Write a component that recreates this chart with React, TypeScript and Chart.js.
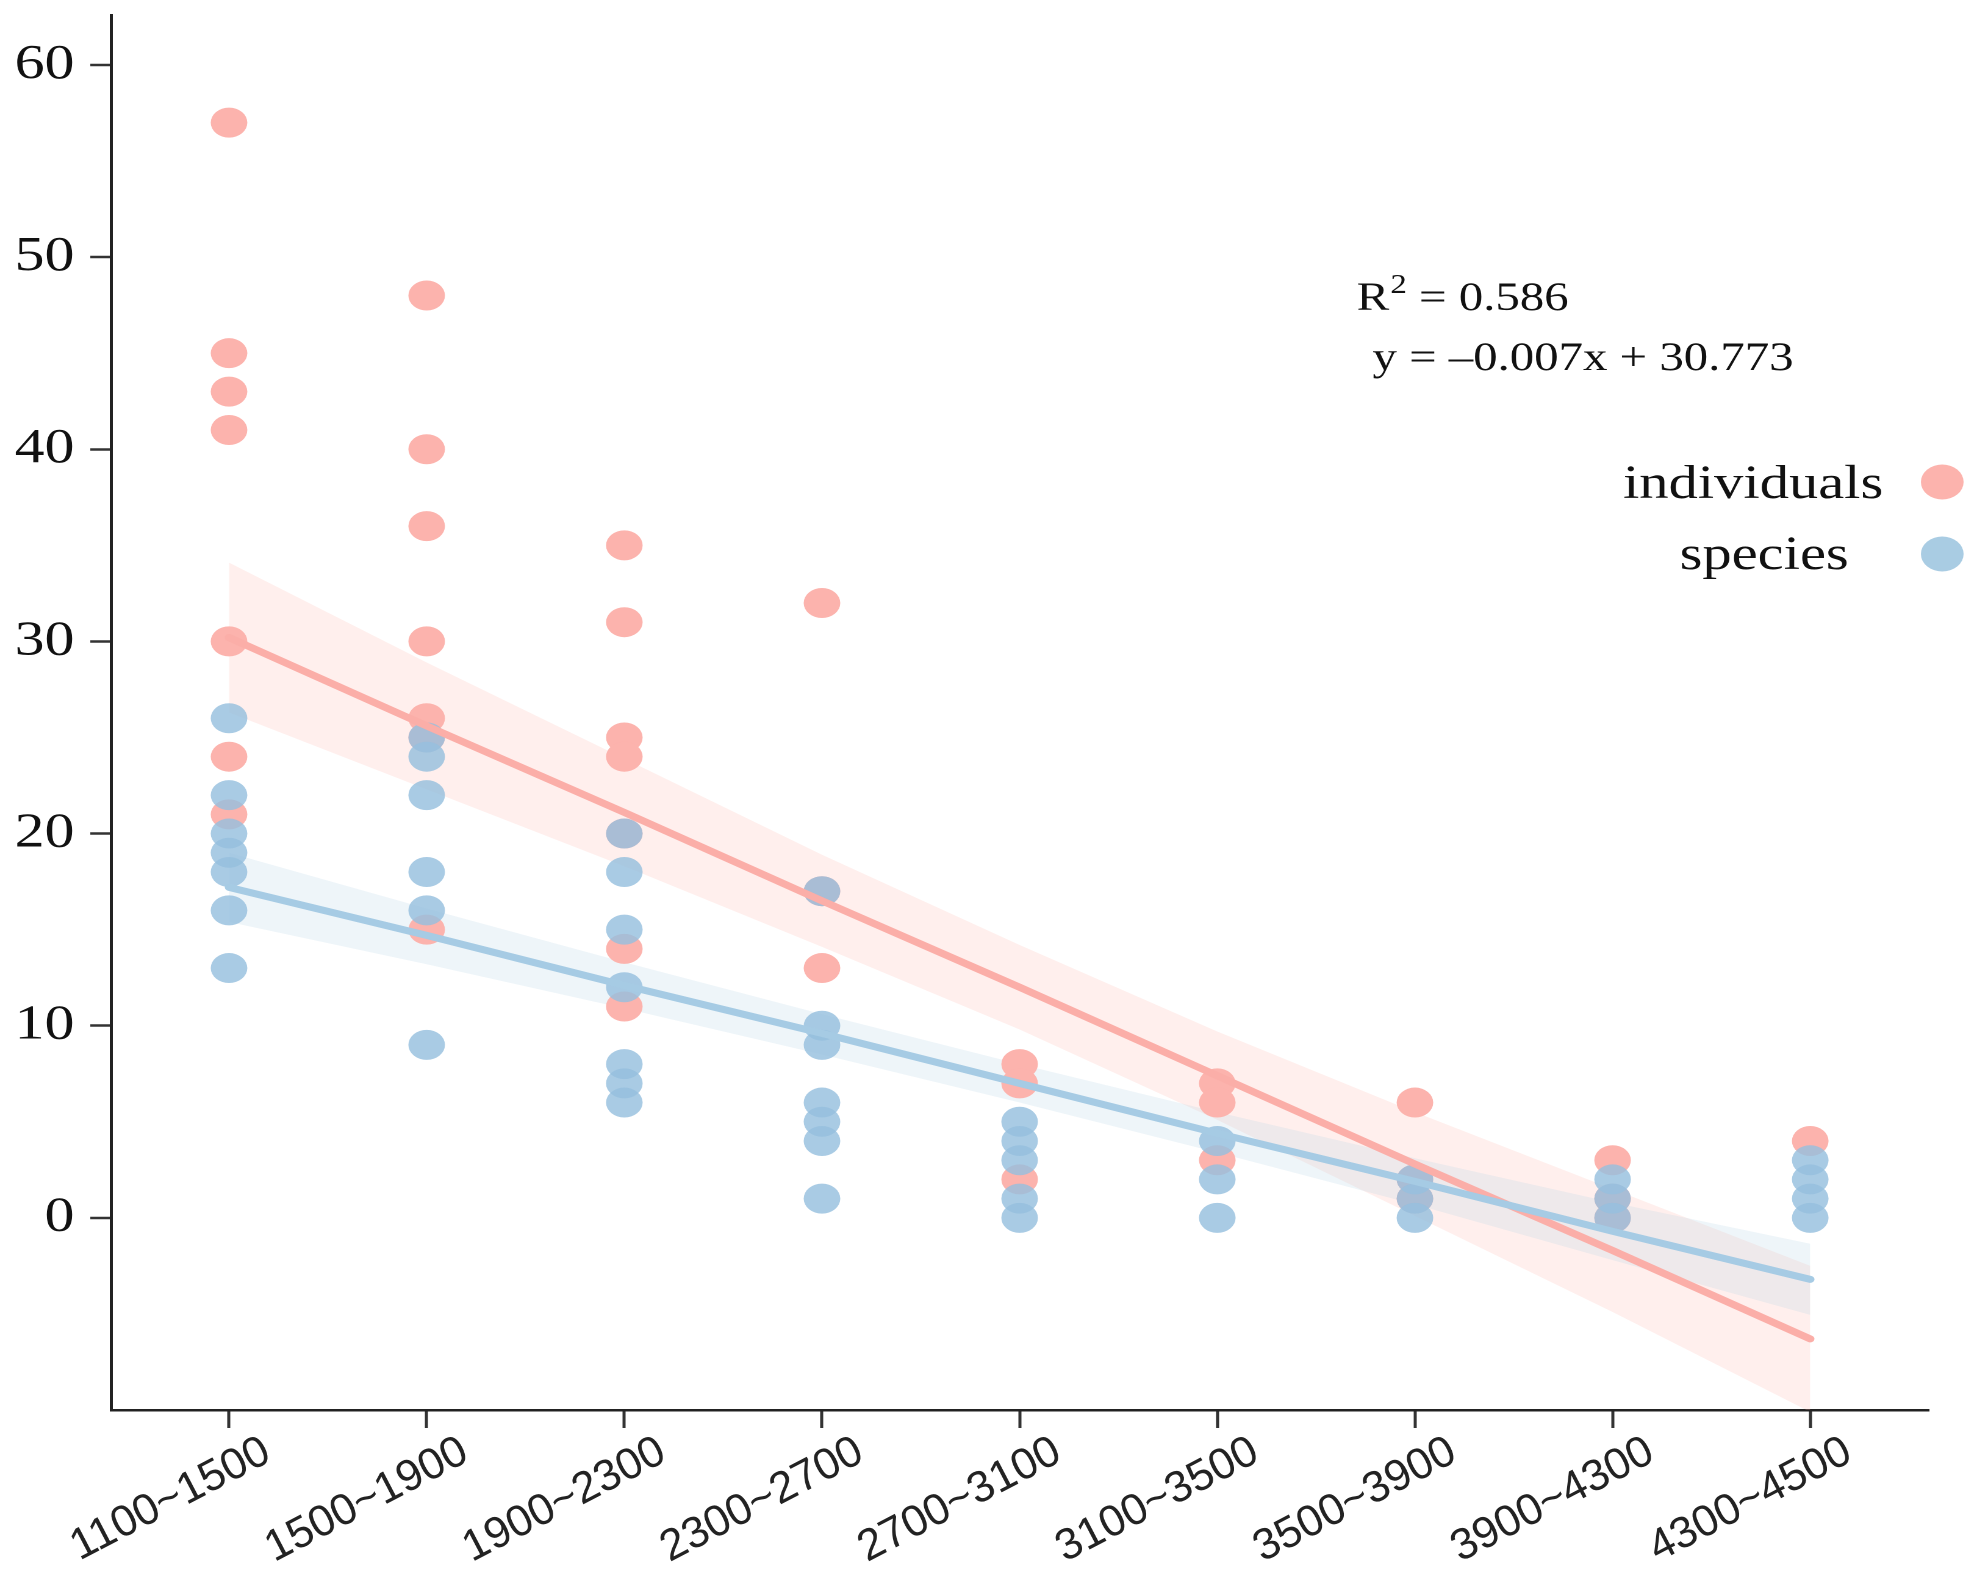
import { useEffect, useRef } from "react";
import { Chart, registerables } from "chart.js";
import type { ChartConfiguration, Plugin as ChartPlugin, Scale } from "chart.js";

Chart.register(...registerables);

// the source figure is stretched sideways, so draw narrow and scale the canvas in x
const SX = 1.22;
const PAGE_W = 1974;
const PAGE_H = 1570;
const CW = Math.round(PAGE_W / SX);
const CH = PAGE_H;

const elevationBands = ["1100~1500", "1500~1900", "1900~2300", "2300~2700", "2700~3100", "3100~3500", "3500~3900", "3900~4300", "4300~4500"];
const yTicks = [0, 10, 20, 30, 40, 50, 60];

const individualsByBand = [
    [57, 45, 43, 41, 30, 24, 21],
    [48, 40, 36, 30, 26, 25, 15],
    [35, 31, 25, 24, 20, 14, 11],
    [32, 17, 13],
    [8, 7, 2],
    [7, 6, 3],
    [6, 2, 1],
    [3, 1, 0],
    [4],
];
const speciesByBand = [
    [26, 22, 20, 19, 18, 16, 13],
    [25, 24, 22, 18, 16, 9],
    [20, 18, 15, 12, 8, 7, 6],
    [17, 10, 9, 6, 5, 4, 1],
    [5, 4, 3, 1, 0],
    [4, 2, 0],
    [2, 1, 0],
    [2, 1, 0],
    [3, 2, 1, 0],
];

const individualsFit = [30.2, 25.6, 21.1, 16.5, 12.0, 7.4, 2.8, -1.7, -6.3];
const individualsUpper = [34.1, 28.9, 23.9, 18.9, 14.2, 9.7, 5.5, 1.5, -2.5];
const individualsLower = [26.3, 22.3, 18.3, 14.1, 9.8, 5.1, 0.1, -4.9, -10.1];
const speciesFit = [17.2, 14.7, 12.1, 9.6, 7.0, 4.4, 1.9, -0.7, -3.2];
const speciesUpper = [19.0, 16.1, 13.3, 10.6, 8.0, 5.5, 3.1, 0.8, -1.35];
const speciesLower = [15.4, 13.2, 10.9, 8.5, 6.0, 3.4, 0.7, -2.2, -5.05];

const r2Label = " = 0.586";
const equationLabel = "y = \u20130.007x + 30.773";
const legendItems = ["individuals", "species"];

const PINK = "rgb(252,179,173)";
const BLUE = "rgba(150,192,222,0.82)";
const PINK_LINE = "rgb(251,174,168)";
const BLUE_LINE = "rgb(166,203,228)";
const PINK_BAND = "rgba(253,180,174,0.22)";
const BLUE_BAND = "rgba(169,204,227,0.2)";

const toPoints = (values: number[]) => values.map((y, x) => ({ x, y }));
const toScatter = (groups: number[][]) => groups.flatMap((vals, x) => vals.map((y) => ({ x, y })));

// x labels are drawn un-stretched (the reference keeps them upright after the stretch)
const bandLabelPlugin: ChartPlugin = {
    id: "bandLabelPlugin",
    afterDraw: (chart: Chart) => {
        const ctx = chart.ctx;
        const xScale = chart.scales.x;
        const angle = (27.5 * Math.PI) / 180;
        ctx.save();
        ctx.scale(1 / SX, 1);
        ctx.fillStyle = "#222";
        ctx.font = '44px "Liberation Sans"';
        ctx.textAlign = "right";
        ctx.textBaseline = "alphabetic";
        elevationBands.forEach((label, i) => {
            const px = xScale.getPixelForValue(i) * SX;
            ctx.save();
            ctx.translate(px + 44, xScale.top + 50);
            ctx.rotate(-angle);
            ctx.fillText(label, 0, 0);
            ctx.restore();
        });
        ctx.restore();
    },
};

const annotationPlugin: ChartPlugin = {
    id: "annotationPlugin",
    afterDraw: (chart: Chart) => {
        const ctx = chart.ctx;
        ctx.save();
        ctx.fillStyle = "#111";
        ctx.textBaseline = "alphabetic";
        ctx.textAlign = "left";

        /*** R squared and equation ***/
        let x = 1112;
        ctx.font = '40px "Liberation Serif"';
        ctx.fillText("R", x, 310);
        x += ctx.measureText("R").width + 1;
        ctx.font = '27px "Liberation Serif"';
        ctx.fillText("2", x, 293);
        x += ctx.measureText("2").width;
        ctx.font = '40px "Liberation Serif"';
        ctx.fillText(r2Label, x, 310);
        ctx.fillText(equationLabel, 1125, 370);

        /*** legend ***/
        ctx.font = '48px "Liberation Serif"';
        ctx.textAlign = "center";
        ctx.fillText(legendItems[0], 1437, 498);
        ctx.fillText(legendItems[1], 1446, 569);
        ctx.fillStyle = PINK;
        ctx.beginPath();
        ctx.arc(1592, 482, 17.5, 0, Math.PI * 2);
        ctx.fill();
        ctx.fillStyle = "rgb(169,204,227)";
        ctx.beginPath();
        ctx.arc(1592, 554, 17.5, 0, Math.PI * 2);
        ctx.fill();
        ctx.restore();
    },
};

function getConfig(): ChartConfiguration {
    const band = (data: number[], color: string, fill: string | boolean, order: number) => ({
        type: "line" as const,
        data: toPoints(data),
        borderColor: "transparent",
        borderWidth: 0,
        backgroundColor: color,
        pointRadius: 0,
        fill: fill,
        order: order,
    });
    const fitLine = (data: number[], color: string, order: number) => ({
        type: "line" as const,
        data: toPoints(data),
        borderColor: color,
        borderWidth: 7,
        borderCapStyle: "round" as const,
        pointRadius: 0,
        fill: false,
        tension: 0,
        order: order,
    });
    return {
        type: "scatter",
        data: {
            datasets: [
                band(individualsUpper, PINK_BAND, "+1", 10),
                band(individualsLower, PINK_BAND, false, 10),
                band(speciesUpper, BLUE_BAND, "+1", 9),
                band(speciesLower, BLUE_BAND, false, 9),
                {
                    type: "scatter",
                    label: "individuals",
                    data: toScatter(individualsByBand),
                    pointRadius: 15,
                    pointBorderWidth: 0,
                    pointBackgroundColor: PINK,
                    order: 5,
                },
                {
                    type: "scatter",
                    label: "species",
                    data: toScatter(speciesByBand),
                    pointRadius: 15,
                    pointBorderWidth: 0,
                    pointBackgroundColor: BLUE,
                    order: 4,
                },
                fitLine(individualsFit, PINK_LINE, 2),
                fitLine(speciesFit, BLUE_LINE, 1),
            ],
        } as any,
        options: {
            animation: false,
            responsive: false,
            devicePixelRatio: 2,
            events: [],
            layout: { padding: { top: 15, right: CW - 1581, bottom: 0, left: 0 } },
            scales: {
                x: {
                    type: "linear",
                    min: -0.597,
                    max: 8.6,
                    afterBuildTicks: (scale: Scale) => {
                        scale.ticks = elevationBands.map((_, i) => ({ value: i }));
                    },
                    afterFit: (scale: Scale) => {
                        scale.height = CH - 1410;
                        scale.paddingLeft = 0;
                        scale.paddingRight = 0;
                    },
                    ticks: {
                        display: false,
                        autoSkip: false,
                        maxRotation: 0,
                    },
                    grid: {
                        display: true,
                        drawOnChartArea: false,
                        drawTicks: true,
                        tickLength: 18,
                        tickWidth: 2.5,
                        tickColor: "#333",
                    },
                    border: { display: true, color: "#222", width: 2.5 },
                },
                y: {
                    type: "linear",
                    min: -10,
                    max: 62.6,
                    afterBuildTicks: (scale: Scale) => {
                        scale.ticks = yTicks.map((v) => ({ value: v }));
                    },
                    afterFit: (scale: Scale) => {
                        scale.width = 91;
                        scale.paddingTop = 0;
                        scale.paddingBottom = 0;
                    },
                    ticks: {
                        padding: 13,
                        color: "#111",
                        font: { family: "Liberation Serif", size: 49 },
                    },
                    grid: {
                        display: true,
                        drawOnChartArea: false,
                        drawTicks: true,
                        tickLength: 17,
                        tickWidth: 2.5,
                        tickColor: "#333",
                    },
                    border: { display: true, color: "#222", width: 2.5 },
                },
            },
            plugins: {
                legend: { display: false },
                tooltip: { enabled: false },
            },
        },
        plugins: [bandLabelPlugin, annotationPlugin],
    };
}

export default function App() {
    const canvasRef = useRef<HTMLCanvasElement>(null);

    useEffect(() => {
        if (!canvasRef.current) {
            return;
        }
        const chart = new Chart(canvasRef.current, getConfig());
        return () => {
            chart.destroy();
        };
    }, []);

    return (
        <div style={{ position: "absolute", left: 0, top: 0, width: PAGE_W, height: PAGE_H, overflow: "hidden", background: "#fff" }}>
            <canvas
                ref={canvasRef}
                width={CW}
                height={CH}
                style={{ display: "block", width: CW, height: CH, transform: `scaleX(${SX})`, transformOrigin: "0 0" }}
            />
        </div>
    );
}
